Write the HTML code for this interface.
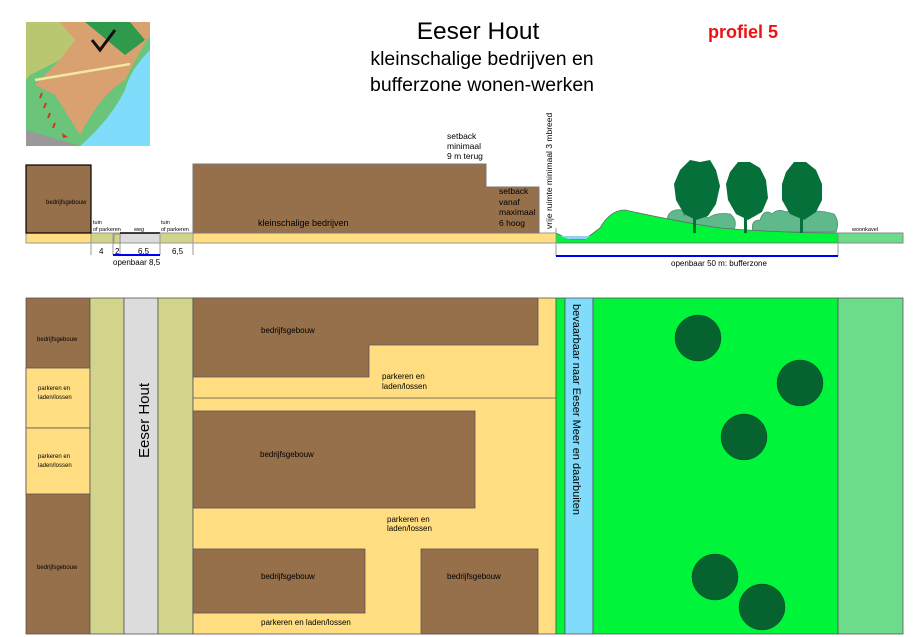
<!DOCTYPE html>
<html><head><meta charset="utf-8"><style>
body{margin:0;background:#fff;}
svg{display:block;font-family:"Liberation Sans",sans-serif;}
</style></head><body>
<svg width="914" height="637" viewBox="0 0 914 637" xmlns="http://www.w3.org/2000/svg">
<!-- minimap -->
<g>
<rect x="26" y="22" width="124" height="124" fill="#7fdcfa"/>
<path d="M26 22 H150 V50 Q130 70 125 90 Q110 120 80 146 H26Z" fill="#6ac47a"/>
<path d="M26 22 H85 L75 45 L60 60 L30 75 L26 80Z" fill="#b9c870"/>
<path d="M60 22 H150 V35 Q135 60 125 80 Q100 95 80 135 L55 95 L35 85 L60 60 L75 40Z" fill="#d9a070"/>
<path d="M85 22 H130 L145 40 L125 55 Z" fill="#2e9a4c"/>
<line x1="35" y1="80" x2="130" y2="64" stroke="#f2e8a0" stroke-width="2.5"/>
<path d="M92 40 L100 50 L115 30" stroke="#111" stroke-width="3" fill="none"/>
<path d="M26 130 L80 146 L26 146Z" fill="#999"/>
<g stroke="#e03020" stroke-width="2"><line x1="42" y1="93" x2="40" y2="98"/><line x1="46" y1="103" x2="44" y2="108"/><line x1="50" y1="113" x2="48" y2="118"/><line x1="55" y1="123" x2="53" y2="128"/></g>
<path d="M62 133 L68 137 L63 138Z" fill="#e03020"/>
</g>
<!-- titles -->
<text x="478" y="39" font-size="24.5" text-anchor="middle">Eeser Hout</text>
<text x="482" y="65" font-size="19.5" text-anchor="middle">kleinschalige bedrijven en</text>
<text x="482" y="91" font-size="19.5" text-anchor="middle">bufferzone wonen-werken</text>
<text x="743" y="38" font-size="18" font-weight="bold" fill="#ee1111" text-anchor="middle">profiel 5</text>
<!-- section -->
<rect x="26" y="233" width="530" height="10" fill="#ffdd80" stroke="#999" stroke-width="1"/>
<rect x="91" y="233" width="69" height="10" fill="#d2d48c" stroke="#999"/>
<rect x="120" y="233" width="40" height="10" fill="#dcdcdc" stroke="#999"/>
<rect x="160" y="233" width="33" height="10" fill="#d2d48c" stroke="#999"/>
<line x1="120" y1="233" x2="160" y2="233" stroke="#000" stroke-width="1.5"/>
<rect x="26" y="165" width="65" height="68" fill="#966f4b" stroke="#000" stroke-width="1.2"/>
<text x="46" y="204" font-size="6">bedrijfsgebouw</text>
<path d="M193 233 V164 H486 V187 H539 V233Z" fill="#966f4b" stroke="#777"/>
<text x="258" y="226" font-size="9">kleinschalige bedrijven</text>
<text x="447" y="139" font-size="8.5">setback</text>
<text x="447" y="149" font-size="8.5">minimaal</text>
<text x="447" y="159" font-size="8.5">9 m terug</text>
<text x="499" y="194" font-size="8.5">setback</text>
<text x="499" y="205" font-size="8.5">vanaf</text>
<text x="499" y="215" font-size="8.5">maximaal</text>
<text x="499" y="226" font-size="8.5">6 hoog</text>
<text transform="translate(552,229) rotate(-90)" font-size="8.5">vrije ruimte minimaal 3 mbreed</text>
<text x="93" y="224" font-size="5.5">tuin</text>
<text x="93" y="231" font-size="5.5">of parkeren</text>
<text x="134" y="231" font-size="5.5">weg</text>
<text x="161" y="224" font-size="5.5">tuin</text>
<text x="161" y="231" font-size="5.5">of parkeren</text>
<!-- shrubs -->
<g fill="#5fb98a" stroke="#4b8f6b" stroke-width="0.8">
<path d="M668 229 Q664 212 676 210 Q684 208 684 216 Q690 208 696 216 Q702 212 708 218 Q716 212 730 214 Q738 220 734 230 Q700 228 668 229Z"/>
<path d="M753 232 Q750 220 760 220 Q764 208 772 214 Q778 208 786 212 Q792 208 800 214 Q814 208 834 214 Q840 222 836 232Z"/>
</g>
<!-- green zone -->
<path d="M556 233 L562 236 L570 239 L585 239 L592 234 L600 228 Q610 210 625 210 Q680 222 720 228 Q780 233 838 233 V243 H556Z" fill="#00f53a" stroke="#666" stroke-width="0.8"/>
<path d="M560 236 L568 239 L586 239 L590 236Z" fill="#8fd2f0"/>
<rect x="838" y="233" width="65" height="10" fill="#6ddc8a" stroke="#888"/>
<text x="852" y="231" font-size="5.5">woonkavel</text>
<!-- trees -->
<g fill="#06703a">
<path d="M680 170 L690 160 L700 162 L710 160 L716 170 L720 186 L716 204 L708 216 L696 220 L684 214 L676 200 L674 184Z"/>
<rect x="693" y="210" width="3" height="23"/>
<path d="M730 172 L738 162 L750 162 L760 168 L766 180 L768 198 L762 212 L748 220 L736 214 L728 200 L726 184Z"/>
<rect x="744" y="210" width="3" height="23"/>
<path d="M786 172 L794 162 L806 162 L816 170 L822 184 L822 200 L816 212 L804 220 L790 214 L782 200 L782 184Z"/>
<rect x="800" y="210" width="3" height="23"/>
</g>
<!-- dimension lines -->
<g stroke="#999" stroke-width="1">
<line x1="91" y1="243" x2="91" y2="255"/><line x1="113" y1="233" x2="113" y2="255"/><line x1="120" y1="243" x2="120" y2="255"/><line x1="160" y1="233" x2="160" y2="255"/><line x1="193" y1="243" x2="193" y2="255"/>
<line x1="556" y1="228" x2="556" y2="256"/><line x1="838" y1="243" x2="838" y2="256"/>
</g>
<rect x="114" y="234" width="6" height="9" fill="#d2d48c" stroke="#666" stroke-width="0.5"/>
<line x1="113" y1="255" x2="160" y2="255" stroke="#0000ee" stroke-width="2"/>
<line x1="556" y1="256" x2="838" y2="256" stroke="#0000ee" stroke-width="2"/>
<text x="99" y="254" font-size="8">4</text>
<text x="115" y="254" font-size="8">2</text>
<text x="138" y="254" font-size="8">6,5</text>
<text x="172" y="254" font-size="8">6,5</text>
<text x="113" y="265" font-size="8">openbaar 8,5</text>
<text x="719" y="266" font-size="8" text-anchor="middle">openbaar 50 m: bufferzone</text>
<!-- plan -->
<g stroke="#555" stroke-width="0.8">
<rect x="26" y="298" width="64" height="336" fill="#966f4b"/>
<rect x="26" y="368" width="64" height="60" fill="#ffdd80"/>
<rect x="26" y="428" width="64" height="66" fill="#ffdd80"/>
<rect x="90" y="298" width="34" height="336" fill="#d2d48c"/>
<rect x="124" y="298" width="34" height="336" fill="#dcdcdc"/>
<rect x="158" y="298" width="35" height="336" fill="#d2d48c"/>
<rect x="193" y="298" width="363" height="336" fill="#ffdd80"/>
<line x1="193" y1="398" x2="556" y2="398"/>
<path d="M193 298 H538 V345 H369 V377 H193Z" fill="#966f4b"/>
<rect x="193" y="411" width="282" height="97" fill="#966f4b"/>
<rect x="193" y="549" width="172" height="64" fill="#966f4b"/>
<rect x="421" y="549" width="117" height="85" fill="#966f4b"/>
<rect x="556" y="298" width="9" height="336" fill="#00f53a"/>
<rect x="565" y="298" width="28" height="336" fill="#80dcfa"/>
<rect x="593" y="298" width="245" height="336" fill="#00f53a"/>
<rect x="838" y="298" width="65" height="336" fill="#6ddc8a"/>
</g>
<g fill="#06622e" stroke="#0a4a22" stroke-width="0.5">
<circle cx="698" cy="338" r="23"/><circle cx="800" cy="383" r="23"/><circle cx="744" cy="437" r="23"/><circle cx="715" cy="577" r="23"/><circle cx="762" cy="607" r="23"/>
</g>
<g font-size="6">
<text x="37" y="341">bedrijfsgebouw</text>
<text x="38" y="390">parkeren en</text><text x="38" y="399">laden/lossen</text>
<text x="38" y="458">parkeren en</text><text x="38" y="467">laden/lossen</text>
<text x="37" y="569">bedrijfsgebouw</text>
</g>
<g font-size="8">
<text x="261" y="333">bedrijfsgebouw</text>
<text x="382" y="379">parkeren en</text><text x="382" y="389">laden/lossen</text>
<text x="260" y="457">bedrijfsgebouw</text>
<text x="387" y="522">parkeren en</text><text x="387" y="531">laden/lossen</text>
<text x="261" y="579">bedrijfsgebouw</text>
<text x="447" y="579">bedrijfsgebouw</text>
<text x="261" y="625">parkeren en laden/lossen</text>
</g>
<text transform="translate(149,458) rotate(-90)" font-size="15">Eeser Hout</text>
<text transform="translate(573,304) rotate(90)" font-size="11">bevaarbaar naar Eeser Meer en daarbuiten</text>
</svg>
</body></html>
